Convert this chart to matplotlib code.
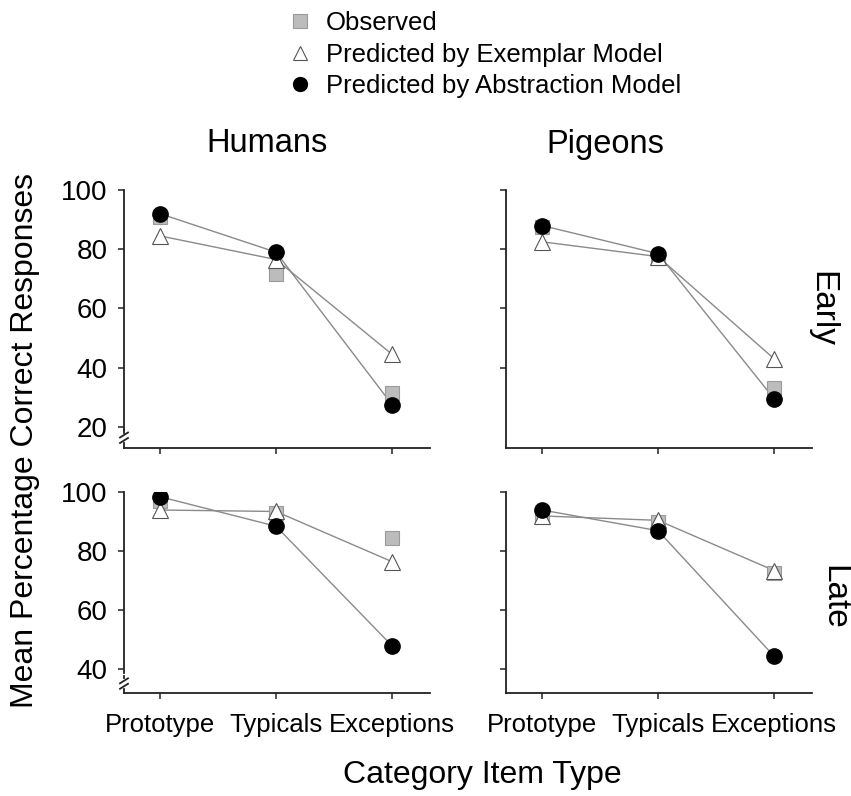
import matplotlib
matplotlib.use('Agg')
import matplotlib.pyplot as plt
from matplotlib.lines import Line2D

plt.rcParams['font.family'] = ['Liberation Sans', 'DejaVu Sans']

categories = ['Prototype', 'Typicals', 'Exceptions']
groups = ['Humans', 'Pigeons']
stages = ['Early', 'Late']
series_names = ['Observed', 'Predicted by Exemplar Model', 'Predicted by Abstraction Model']

humans_early_observed = [91, 71.5, 31.5]
humans_early_exemplar = [84.5, 76.5, 44.5]
humans_early_abstraction = [92, 79, 27.5]

pigeons_early_observed = [87.5, 77, 33]
pigeons_early_exemplar = [82.5, 77.5, 43]
pigeons_early_abstraction = [88, 78.5, 29.5]

humans_late_observed = [97, 93, 84.5]
humans_late_exemplar = [94, 93.5, 76.5]
humans_late_abstraction = [98.5, 88.5, 48]

pigeons_late_observed = [92, 90, 72.5]
pigeons_late_exemplar = [92, 90.5, 73.5]
pigeons_late_abstraction = [94, 87, 44.5]

early_yticks = [20, 40, 60, 80, 100]
late_yticks = [40, 60, 80, 100]

panels = {
    ('Humans', 'Early'): (humans_early_observed, humans_early_exemplar, humans_early_abstraction),
    ('Pigeons', 'Early'): (pigeons_early_observed, pigeons_early_exemplar, pigeons_early_abstraction),
    ('Humans', 'Late'): (humans_late_observed, humans_late_exemplar, humans_late_abstraction),
    ('Pigeons', 'Late'): (pigeons_late_observed, pigeons_late_exemplar, pigeons_late_abstraction),
}

W, H = 851, 796
fig = plt.figure(figsize=(W / 100, H / 100), dpi=100)

# pixel boxes: (left, right) and (top, bottom)
col_x = {'Humans': (124, 430), 'Pigeons': (506, 812)}
row_y = {'Early': (190, 447.5), 'Late': (492.3, 693.3)}
ylims = {'Early': (13.0, 100), 'Late': (31.9, 100)}

LINE_C = '#8a8a8a'
SPINE_C = '#222222'
xs = list(range(len(categories)))

for g in groups:
    for s in stages:
        x0, x1 = col_x[g]
        y0, y1 = row_y[s]
        ax = fig.add_axes([x0 / W, 1 - y1 / H, (x1 - x0) / W, (y1 - y0) / H])
        obs, exm, abst = panels[(g, s)]
        ax.plot(xs, exm, color=LINE_C, lw=1.0, zorder=2)
        ax.plot(xs, abst, color=LINE_C, lw=1.0, zorder=2)
        ax.plot(xs, obs, ls='none', marker='s', ms=10.5, mfc='#bcbcbc', mec='#9a9a9a', mew=0.8, zorder=3)
        ax.plot(xs, exm, ls='none', marker='^', ms=11.5, mfc='white', mec='#555555', mew=0.8, zorder=4)
        ax.plot(xs, abst, ls='none', marker='o', ms=11, mfc='black', mec='black', zorder=5)

        ax.set_xlim(-36 / 116, (x1 - x0 - 36) / 116)
        ax.set_ylim(*ylims[s])
        ax.set_xticks(xs)
        if s == 'Late':
            ax.set_xticklabels(categories, fontsize=18.5)
        else:
            ax.set_xticklabels([])
        if s == 'Early':
            ticks = early_yticks if g == 'Humans' else early_yticks[1:]
        else:
            ticks = late_yticks
        ax.set_yticks(ticks)
        if g == 'Humans':
            ax.set_yticklabels([str(t) for t in ticks], fontsize=20)
        else:
            ax.set_yticklabels([])
        for side in ['top', 'right']:
            ax.spines[side].set_visible(False)
        for side in ['left', 'bottom']:
            ax.spines[side].set_color(SPINE_C)
            ax.spines[side].set_linewidth(1.3)
        ax.tick_params(direction='out', length=4, width=1.1, color=SPINE_C, pad=8)
        ax.tick_params(axis='x', pad=10)

        if g == 'Humans':
            # axis break on the left spine
            hpx = y1 - y0
            wpx = x1 - x0
            lowest = ticks[0]
            ax.spines['left'].set_bounds(lowest - 1.2 * (100 - ylims[s][0]) / hpx * 3, 100)
            def pt(dx, dy_from_bottom):
                return (dx / wpx, dy_from_bottom / hpx)
            for yc in (12.5, 7.0):
                a = pt(-4, yc - 2.5)
                b = pt(4, yc + 2.5)
                ax.plot([a[0], b[0]], [a[1], b[1]], transform=ax.transAxes, color=SPINE_C,
                        lw=1.3, clip_on=False, zorder=6)
            a = pt(0, 0)
            b = pt(0, 4.5)
            ax.plot([a[0], b[0]], [a[1], b[1]], transform=ax.transAxes, color=SPINE_C,
                    lw=1.3, clip_on=False, zorder=6)
            a = pt(0, 15)
            b = pt(0, 17.5)
            ax.plot([a[0], b[0]], [a[1], b[1]], transform=ax.transAxes, color=SPINE_C,
                    lw=1.3, clip_on=False, zorder=6)

# column titles
fig.text(267 / W, 1 - 144 / H, 'Humans', fontsize=23.5, ha='center', va='center')
fig.text(605 / W, 1 - 144 / H, 'Pigeons', fontsize=23.5, ha='center', va='center')
# row labels
fig.text(822 / W, 1 - 309 / H, 'Early', fontsize=24, ha='center', va='center', rotation=-90)
fig.text(834 / W, 1 - 597 / H, 'Late', fontsize=24, ha='center', va='center', rotation=-90)
# axis labels
fig.text(25 / W, 1 - 440 / H, 'Mean Percentage Correct Responses', fontsize=23,
         ha='center', va='center', rotation=90)
fig.text(482 / W, 1 - 775 / H, 'Category Item Type', fontsize=23, ha='center', va='center')

handles = [
    Line2D([], [], ls='none', marker='s', ms=9.5, mfc='#bcbcbc', mec='#9a9a9a', mew=0.8),
    Line2D([], [], ls='none', marker='^', ms=10, mfc='white', mec='#555555', mew=0.8),
    Line2D([], [], ls='none', marker='o', ms=10, mfc='black', mec='black'),
]
fig.legend(handles, series_names, loc='upper left', bbox_to_anchor=(287 / W, 1 - 11 / H),
           frameon=False, fontsize=18.5, handlelength=1.0, handletextpad=0.5,
           labelspacing=0.3, borderpad=0, borderaxespad=0)

fig.savefig('out.png', dpi=100)
